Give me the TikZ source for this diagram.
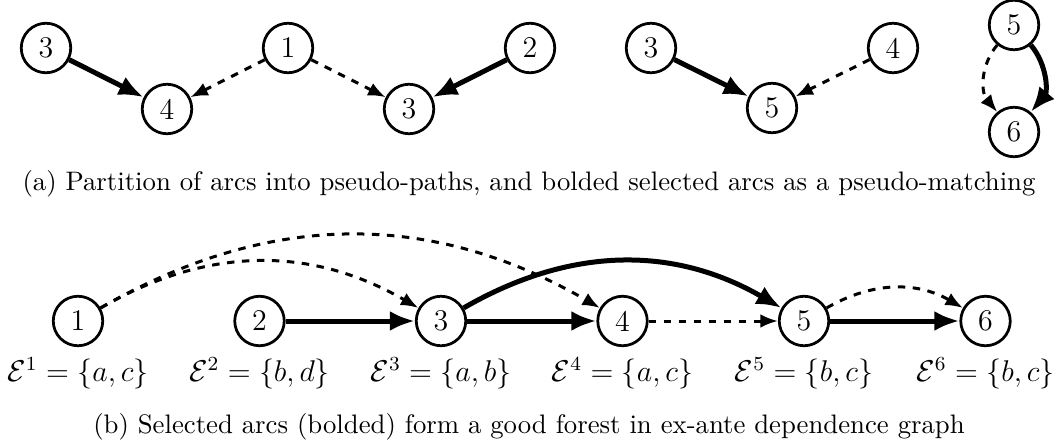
\documentclass[tikz,border=0pt]{standalone}
\usetikzlibrary{arrows.meta}
\begin{document}
\begin{tikzpicture}[x=0.4pt,y=-0.4pt,
  vtx/.style={circle,draw,line width=1.1pt,minimum size=19.8pt,inner sep=0pt,font=\fontsize{12}{14}\selectfont},
  sel/.style={-{Latex[length=10pt,width=8pt]},line width=2pt},
  unsel/.style={-{Latex[length=7pt,width=5.5pt]},line width=1.2pt,dashed},
  lbl/.style={inner sep=0pt,font=\fontsize{12}{14}\selectfont},
  captext/.style={inner sep=0pt,font=\fontsize{10.7}{13}\selectfont}]
\useasboundingbox (0,0) rectangle (1058,446);
% (a)
\node[vtx] (a3) at (46,48) {3};
\node[vtx] (a4) at (167,109) {4};
\node[vtx] (a1) at (288,48) {1};
\node[vtx] (a3b) at (409,109) {3};
\node[vtx] (a2) at (530,48) {2};
\node[vtx] (c3) at (651,48) {3};
\node[vtx] (c5) at (772,108) {5};
\node[vtx] (c4) at (893,48) {4};
\node[vtx] (d5) at (1014,25) {5};
\node[vtx] (d6) at (1014,132) {6};
\draw[sel] (a3) -- (a4);
\draw[unsel] (a1) -- (a4);
\draw[unsel] (a1) -- (a3b);
\draw[sel] (a2) -- (a3b);
\draw[sel] (c3) -- (c5);
\draw[unsel] (c4) -- (c5);
\draw[unsel] (d5) to[bend right=40] (d6);
\draw[sel] (d5) to[bend left=40] (d6);
\node[captext] (capa) at (529,184) {(a) Partition of arcs into pseudo-paths, and bolded selected arcs as a pseudo-matching};
% (b)
\node[vtx] (b1) at (78,321) {1};
\node[vtx] (b2) at (259.5,321) {2};
\node[vtx] (b3) at (441,321) {3};
\node[vtx] (b4) at (622.5,321) {4};
\node[vtx] (b5) at (804,321) {5};
\node[vtx] (b6) at (985.5,321) {6};
\node[lbl] (l1) at (78,373) {$\mathcal{E}^1 = \{a,c\}$};
\node[lbl] (l2) at (259.5,373) {$\mathcal{E}^2 = \{b,d\}$};
\node[lbl] (l3) at (441,373) {$\mathcal{E}^3 = \{a,b\}$};
\node[lbl] (l4) at (622.5,373) {$\mathcal{E}^4 = \{a,c\}$};
\node[lbl] (l5) at (804,373) {$\mathcal{E}^5 = \{b,c\}$};
\node[lbl] (l6) at (985.5,373) {$\mathcal{E}^6 = \{b,c\}$};
\draw[unsel] (b1) to[bend left=30] (b3);
\draw[unsel] (b1) to[bend left=30] (b4);
\draw[sel] (b2) -- (b3);
\draw[sel] (b3) -- (b4);
\draw[sel] (b3) to[bend left=30] (b5);
\draw[unsel] (b4) -- (b5);
\draw[sel] (b5) -- (b6);
\draw[unsel] (b5) to[bend left=30] (b6);
\node[captext] (capb) at (529,427) {(b) Selected arcs (bolded) form a good forest in ex-ante dependence graph};
\end{tikzpicture}
\end{document}
